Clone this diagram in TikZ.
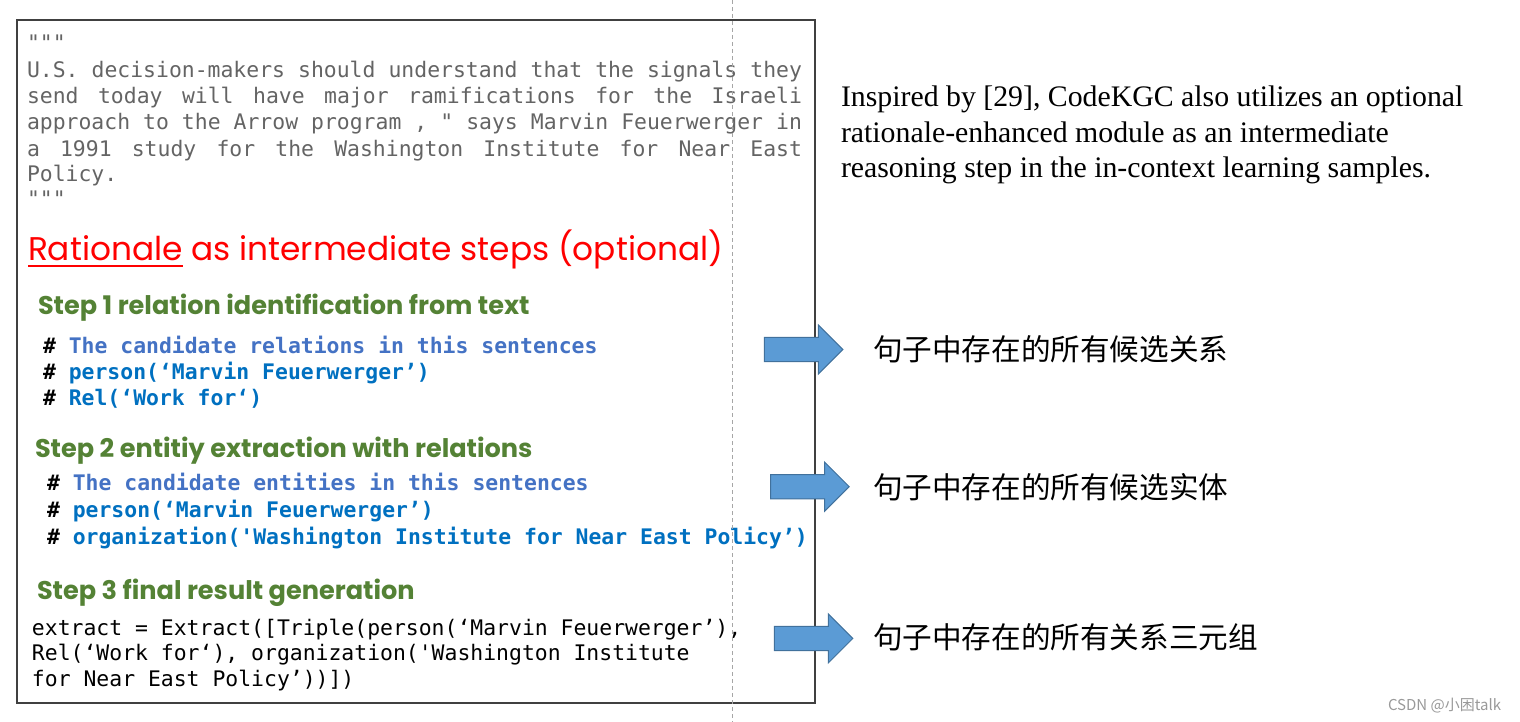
\documentclass[tikz,border=0pt]{standalone}
\usepackage{fontspec}
\setmainfont{Liberation Serif}
\setmonofont{DejaVu Sans Mono}
\newfontfamily\headfont{Poppins}
\newfontfamily\cjk{Noto Sans CJK SC}
\usetikzlibrary{positioning,shapes.arrows}

\definecolor{passagegray}{RGB}{100,100,100}
\definecolor{cmtblue}{RGB}{68,114,196}
\definecolor{codeblue}{RGB}{0,112,192}
\definecolor{stepgreen}{RGB}{84,130,53}
\definecolor{arrowfill}{RGB}{91,155,213}
\definecolor{arrowline}{RGB}{65,113,156}
\definecolor{framegray}{RGB}{64,64,64}

% justified line of the quoted passage
\newcommand{\justline}[1]{{\spaceskip=0.602em plus 1fill\relax\makebox[387.5pt][s]{#1}}}

\begin{document}
\begin{tikzpicture}[
    x=0.5pt, y=-0.5pt,
    every node/.style={inner sep=0pt, outer sep=0pt, anchor=base west},
    passage/.style={font=\ttfamily\fontsize{10.71}{13}\selectfont, text=passagegray},
    code/.style={font=\ttfamily\bfseries\fontsize{10.71}{13}\selectfont},
    plaincode/.style={font=\ttfamily\fontsize{10.71}{13}\selectfont},
    heading/.style={font=\headfont\fontsize{16.4}{19}\selectfont, text=red},
    steptitle/.style={font=\headfont\bfseries\fontsize{12.8}{15}\selectfont, text=stepgreen},
    remark/.style={font=\fontsize{14.9}{17.5}\selectfont},
    cnlabel/.style={font=\cjk\fontsize{14.8}{18}\selectfont},
    blockarrow/.style={shape=single arrow, anchor=tail, fill=arrowfill, draw=arrowline,
        line width=0.5pt, inner xsep=0pt, inner ysep=5.8pt,
        minimum height=39.25pt, minimum width=24pt,
        single arrow head extend=6.2pt}
]
\useasboundingbox (0,0) rectangle (1520,722);

% === Frame round the prompt ===
\draw[framegray, line width=1pt] (16.5,20.5) rectangle (815.3,703.3);

% === Input passage ===
\node[passage] (q1) at (27,51) {"""};
\node[passage] (p1) at (27,78) {\justline{U.S. decision-makers should understand that the signals they}};
\node[passage] (p2) at (27,104) {\justline{send today will have major ramifications for the Israeli}};
\node[passage] (p3) at (27,130) {\justline{approach to the Arrow program , " says Marvin Feuerwerger in}};
\node[passage] (p4) at (27,156) {\justline{a 1991 study for the Washington Institute for Near East}};
\node[passage] (p5) at (27,181) {Policy.};
\node[passage] (q2) at (27,206) {"""};

% === Heading ===
\node[heading] (rat) at (28,260) {Rationale};
\node[heading, base right=0pt of rat] (headrest) {\ as intermediate steps (optional)};
\draw[red, line width=0.75pt] ([yshift=-2.9pt]rat.base west) -- ([yshift=-2.9pt]rat.base east);

% === Step 1 ===
\node[steptitle] (step1) at (38,314) {Step 1 relation identification from text};
\node[code] (s1a) at (43,353) {\# \textcolor{cmtblue}{The candidate relations in this sentences}};
\node[code] (s1b) at (43,379) {\# \textcolor{codeblue}{person(‘Marvin Feuerwerger’)}};
\node[code] (s1c) at (43,405) {\# \textcolor{codeblue}{Rel(‘Work for‘)}};

% === Step 2 ===
\node[steptitle] (step2) at (35,457) {Step 2 entitiy extraction with relations};
\node[code] (s2a) at (47,490) {\# \textcolor{cmtblue}{The candidate entities in this sentences}};
\node[code] (s2b) at (47,517) {\# \textcolor{codeblue}{person(‘Marvin Feuerwerger’)}};
\node[code] (s2c) at (47,544) {\# \textcolor{codeblue}{organization('Washington Institute for Near East Policy’)}};

% === Step 3 ===
\node[steptitle] (step3) at (37,599) {Step 3 final result generation};
\node[plaincode] (s3a) at (32,635) {extract = Extract([Triple(person(‘Marvin Feuerwerger’),};
\node[plaincode] (s3b) at (32,660) {Rel(‘Work for‘), organization('Washington Institute};
\node[plaincode] (s3c) at (32,686) {for Near East Policy’))])};

% === Block arrows ===
\node[blockarrow] (arr1) at (764.3,349.5) {};
\node[blockarrow] (arr2) at (770.7,486.7) {};
\node[blockarrow] (arr3) at (774.3,638.4) {};

% === Chinese notes ===
\node[cnlabel] (cn1) at (873,360) {句子中存在的所有候选关系};
\node[cnlabel] (cn2) at (873,498) {句子中存在的所有候选实体};
\node[cnlabel] (cn3) at (873,648) {句子中存在的所有关系三元组};

% === Remark on the right ===
\node[remark] (r1) at (841,107) {Inspired by [29], CodeKGC also utilizes an optional};
\node[remark] (r2) at (841,142) {rationale-enhanced module as an intermediate};
\node[remark] (r3) at (841,177) {reasoning step in the in-context learning samples.};

% watermark
\node[font=\cjk\fontsize{7.5}{9}\selectfont, text=black!40] (mark) at (1388,710) {CSDN @小困talk};

% dashed guide
\draw[gray!70, line width=0.5pt, dash pattern=on 2pt off 1.5pt] (732.5,0) -- (732.5,722);

\end{tikzpicture}
\end{document}
